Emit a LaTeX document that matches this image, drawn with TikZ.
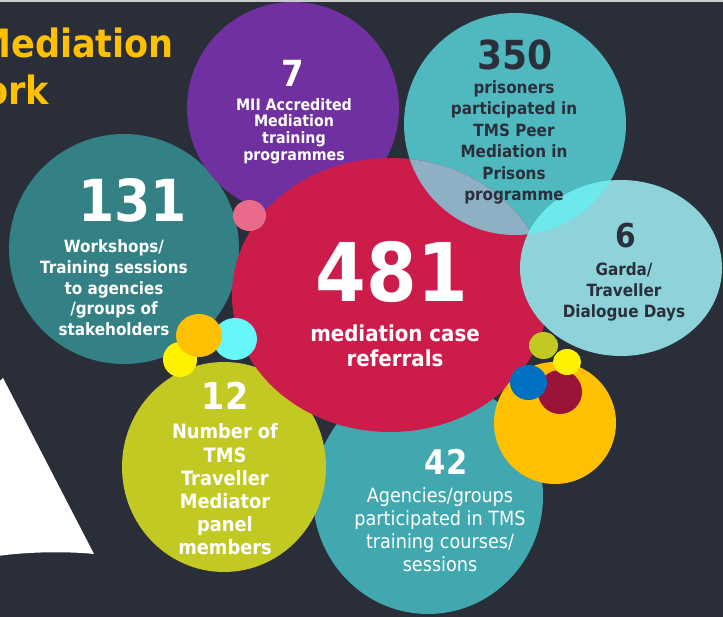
\documentclass[tikz,border=0pt]{standalone}
\usepackage{fontspec}
\setmainfont{DejaVu Sans Condensed}
\usepackage{tikz}
\definecolor{bg}{HTML}{292E39}
\definecolor{rule}{HTML}{C9CBCF}
\definecolor{gold}{HTML}{FFC000}
\definecolor{ink}{HTML}{2A2F3B}
\definecolor{plum}{HTML}{7030A0}
\definecolor{seablue}{HTML}{4FB9BF}
\definecolor{crimson}{HTML}{CC1D4A}
\definecolor{mist}{HTML}{8EB0C4}
\definecolor{pale}{HTML}{8DD3D9}
\definecolor{glow}{HTML}{6DE9EE}
\definecolor{teal}{HTML}{338085}
\definecolor{olive}{HTML}{C2C922}
\definecolor{lagoon}{HTML}{41A8B0}
\definecolor{wine}{HTML}{9A1338}
\definecolor{royal}{HTML}{0070C0}
\definecolor{lemon}{HTML}{FFF200}
\definecolor{rose}{HTML}{E96A8A}
\definecolor{aqua}{HTML}{66F7FB}

\begin{document}
\begin{tikzpicture}[x=1pt, y=-1pt,
    num/.style={inner sep=0pt, text=white, font=\bfseries\fontsize{#1}{#1}\selectfont},
    blurb/.style 2 args={inner sep=0pt, align=center, text=white, font=\bfseries\fontsize{#1}{#2}\selectfont},
    plain/.style 2 args={inner sep=0pt, align=center, text=white, font=\fontsize{#1}{#2}\selectfont},
    title/.style={inner sep=0pt, text=gold, font=\bfseries\fontsize{39}{47}\selectfont}]
      \useasboundingbox (0,0) rectangle (723,617);
      \clip (0,0) rectangle (723,617);
      % Background and top rule
      \fill[bg] (0,0) rectangle (723,617);
      \fill[rule] (0,0) rectangle (723,2);

      % Heading, cut off at the left edge
      \node[title, anchor=base east] (head1) at (174,58) {Mediation};
      \node[title, anchor=base east] (head2) at (49,105) {ork};

      % White sail shape
      \fill[white] (3,378) -- (94,554) .. controls (65,551) and (25,552) .. (-2,556) -- (-2,383) -- cycle;

      % Big bubbles, back to front
      \fill[teal] (124,249) circle (115pt);
      \fill[plum] (293,108) circle (106pt);
      \fill[lagoon] (428,496) ellipse (115pt and 118pt);
      \fill[olive] (224,467) ellipse (102pt and 105pt);
      \fill[seablue] (515,124) circle (111pt);
      \fill[crimson] (390,295) ellipse (158pt and 137pt);
      \begin{scope}
        \clip (515,124) circle (111pt);
        \fill[mist] (390,295) ellipse (158pt and 137pt);
      \end{scope}
      \fill[pale] (621,268) ellipse (101pt and 88pt);
      \begin{scope}
        \clip (515,124) circle (111pt);
        \fill[glow] (621,268) ellipse (101pt and 88pt);
      \end{scope}

      % Small bubbles on the right
      \fill[gold] (555,423) circle (61pt);
      \fill[wine] (560,392) circle (22pt);
      \fill[royal] (528.5,382.5) ellipse (18.5pt and 17.5pt);
      \fill[lemon] (567,362) ellipse (14pt and 13pt);
      \fill[olive] (543.5,345.5) ellipse (14.5pt and 13.5pt);

      % Small bubbles on the left
      \fill[rose] (249.5,215.5) ellipse (16.5pt and 15.5pt);
      \fill[lemon] (180,359.5) ellipse (17pt and 17.5pt);
      \fill[aqua] (235,339) ellipse (22pt and 21pt);
      \fill[gold] (199,335.5) ellipse (23pt and 21.5pt);

      % Figures and captions
      \node[num=36] (n7) at (293,73) {7};
      \node[blurb={15.8}{16.7}] (t7) at (294,131) {MII Accredited\\Mediation\\training\\programmes};

      \node[num=40, text=ink] (n350) at (515,55) {350};
      \node[blurb={16.9}{21.4}, text=ink] (t350) at (514,142.5) {prisoners\\participated in\\TMS Peer\\Mediation in\\Prisons\\programme};

      \node[num=58] (n131) at (132.5,200.5) {131};
      \node[blurb={16.9}{20.7}] (t131) at (114,288) {Workshops/\\Training sessions\\to agencies\\/groups of\\stakeholders};

      \node[num=81] (n481) at (392,272) {481};
      \node[blurb={22}{25}] (t481) at (395,346) {mediation case\\referrals};

      \node[num=33, text=ink] (n6) at (626,236) {6};
      \node[blurb={16.9}{21}, text=ink] (t6) at (624,291.6) {Garda/\\Traveller\\Dialogue Days};

      \node[num=37] (n12) at (225,395.5) {12};
      \node[blurb={19.8}{23.2}] (t12) at (225,489.5) {Number of\\TMS\\Traveller\\Mediator\\panel\\members};

      \node[num=34] (n42) at (446,461.5) {42};
      \node[plain={19.6}{23.1}] (t42) at (440,529.5) {Agencies/groups\\participated in TMS\\training courses/\\sessions};
    \end{tikzpicture}
\end{document}
